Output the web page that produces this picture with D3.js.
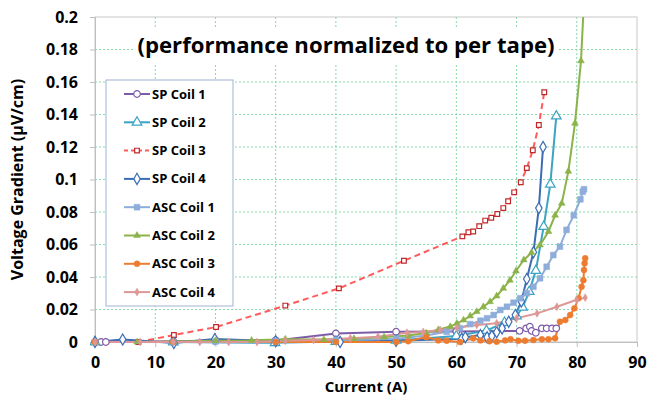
<!DOCTYPE html>
<html>
<head>
<meta charset="utf-8">
<script src="https://cdn.jsdelivr.net/npm/d3@7"></script>
<style>
  body { margin: 0; background: #fff; }
  text { font-family: "Open Sans", "DejaVu Sans", sans-serif; font-weight: bold; fill: #000; }
</style>
</head>
<body>
<svg width="648" height="407"></svg>
<script>
// ---- data (current in A, voltage gradient in uV/cm) ----
const seriesNames = ["SP Coil 1", "SP Coil 2", "SP Coil 3", "SP Coil 4",
                     "ASC Coil 1", "ASC Coil 2", "ASC Coil 3", "ASC Coil 4"];

const sp1I = [0, 1, 1.8, 13, 20, 30, 40, 50, 60, 70.5, 71.6, 72.2, 72.5, 73.2, 74.2, 75, 75.9, 76.6];
const sp1V = [0, 0, 0, 0.0005, 0.001, 0.001, 0.0053, 0.0063, 0.0065, 0.0068, 0.0084, 0.0094, 0.0068, 0.0057, 0.0084, 0.0084, 0.0084, 0.0084];

const sp2I = [0, 13, 29.9, 40, 50, 60, 65, 68, 70, 71, 72.1, 73.2, 74.5, 75.6, 76.6];
const sp2V = [0, 0, -0.0005, 0.0003, 0.001, 0.0037, 0.007, 0.012, 0.016, 0.0213, 0.031, 0.0439, 0.071, 0.097, 0.139];

const sp3I = [7.2, 13.1, 20.1, 31.6, 40.5, 51.3, 61, 62, 62.8, 63.8, 64.8, 65.8, 66.8, 67.8, 68.6, 69.6, 70.7, 71.7, 72.7, 73.7, 74.6];
const sp3V = [0, 0.0043, 0.0092, 0.0224, 0.033, 0.05, 0.065, 0.0675, 0.068, 0.0713, 0.0747, 0.0765, 0.0788, 0.0824, 0.0866, 0.0921, 0.0983, 0.107, 0.118, 0.1335, 0.1537];

const sp4I = [0, 4.6, 13.1, 19.9, 30, 40.7, 50, 60.9, 61.5, 64, 65.1, 65.9, 66.7, 67.6, 68.7, 69.8, 70.8, 71.7, 72.8, 73.7, 74.4];
const sp4V = [0, 0.0015, -0.0006, 0.0018, 0.0005, 0, 0.0008, 0.002, 0.0029, 0.0043, 0.0029, 0.0037, 0.006, 0.0084, 0.0125, 0.0166, 0.025, 0.0388, 0.0552, 0.0824, 0.12];

const asc1I = [0, 13, 20, 30, 40, 50, 55, 58.4, 60.6, 62.3, 64, 65.1, 66.2, 67.3, 68.4, 69.5, 70.6, 71.7, 72.8, 73.9, 75, 76.1, 77.2, 78.3, 79.5, 80.6, 81, 81.2];
const asc1V = [0, 0, 0.0003, 0.0005, 0.001, 0.002, 0.004, 0.0063, 0.0084, 0.011, 0.0131, 0.0146, 0.0166, 0.0197, 0.0217, 0.0242, 0.0269, 0.03, 0.034, 0.0392, 0.0463, 0.0535, 0.0587, 0.069, 0.078, 0.0878, 0.0925, 0.094];

const asc2I = [0, 7, 13, 20, 26, 31.6, 38, 43, 48, 52, 55, 57, 59, 60.1, 61.2, 62.3, 63.4, 64.5, 65.6, 66.7, 67.8, 68.9, 69.9, 71.2, 72.5, 73.9, 75.3, 76.4, 77.5, 78.6, 79.7, 80.7, 81.4];
const asc2V = [0, 0, 0.0003, 0.0008, 0.001, 0.0017, 0.0015, 0.002, 0.003, 0.004, 0.0055, 0.0075, 0.0095, 0.0115, 0.0135, 0.016, 0.0187, 0.0217, 0.0248, 0.0283, 0.033, 0.038, 0.0437, 0.0505, 0.055, 0.0597, 0.068, 0.078, 0.0853, 0.105, 0.1346, 0.173, 0.225];

const asc3I = [0, 13, 30, 40, 50, 52, 55, 57, 58.4, 60.6, 62.8, 64, 65.5, 66.7, 68.1, 69, 70.3, 71.4, 72.8, 74.2, 75.3, 76.4, 77.2, 78.1, 78.9, 79.6, 80.3, 80.8, 81.1, 81.2, 81.3, 81.4];
const asc3V = [0, 0, 0, 0, 0, 0.0005, 0.003, 0.001, 0.0008, 0, 0.0023, 0.001, 0.0005, 0.0002, 0.001, 0.0017, 0.0008, 0.0008, 0.0012, 0.0017, 0.0017, 0.0023, 0.0125, 0.0135, 0.0166, 0.0207, 0.0269, 0.034, 0.038, 0.0443, 0.0484, 0.0515];

const asc4I = [0, 7.5, 13, 17.4, 22.2, 26.9, 31.6, 36.3, 42.4, 47, 51.8, 54.5, 57.3, 60.1, 63.4, 66.7, 70, 73.4, 76.7, 80, 81.4];
const asc4V = [0, 0, 0, 0, 0, 0, 0.0008, 0.0012, 0.0023, 0.0033, 0.0057, 0.0062, 0.0074, 0.0088, 0.0105, 0.0115, 0.0146, 0.0176, 0.0217, 0.026, 0.0273];

const xTicks = [0, 10, 20, 30, 40, 50, 60, 70, 80, 90];
const yTicks = [0, 0.02, 0.04, 0.06, 0.08, 0.1, 0.12, 0.14, 0.16, 0.18, 0.2];

const series = [
  { name: seriesNames[0], I: sp1I, V: sp1V, color: "#7d5ba6", mark: d3.symbolCircle, size: 34, open: true },
  { name: seriesNames[1], I: sp2I, V: sp2V, color: "#3ba3c3", mark: d3.symbolTriangle, size: 40, open: true },
  { name: seriesNames[2], I: sp3I, V: sp3V, color: "#ff5a5a", mark: d3.symbolSquare, size: 22, open: true, dash: "6,4", markColor: "#c0282a" },
  { name: seriesNames[3], I: sp4I, V: sp4V, color: "#3c6db4", mark: d3.symbolDiamond, size: 36, open: true },
  { name: seriesNames[4], I: asc1I, V: asc1V, color: "#8eaddb", mark: d3.symbolSquare, size: 34 },
  { name: seriesNames[5], I: asc2I, V: asc2V, color: "#8cb24a", mark: d3.symbolTriangle, size: 20 },
  { name: seriesNames[6], I: asc3I, V: asc3V, color: "#ec7c30", mark: d3.symbolCircle, size: 28 },
  { name: seriesNames[7], I: asc4I, V: asc4V, color: "#dc9796", mark: d3.symbolDiamond, size: 18 }
];

// ---- layout ----
const svg = d3.select("svg");
const margin = { top: 17, right: 11, bottom: 65, left: 95 };
const W = 648 - margin.left - margin.right;
const H = 407 - margin.top - margin.bottom;

const x = d3.scaleLinear().domain([0, 90]).range([0, W]);
const y = d3.scaleLinear().domain([0, 0.2]).range([H, 0]);

const g = svg.append("g").attr("transform", `translate(${margin.left},${margin.top})`);

// gridlines
g.append("g")
  .selectAll("line.gy")
  .data(yTicks.slice(1, -1))
  .join("line")
  .attr("x1", 0).attr("x2", W)
  .attr("y1", d => y(d)).attr("y2", d => y(d))
  .attr("stroke", "#86d9aa").attr("stroke-width", 1).attr("stroke-dasharray", "2,2");

g.append("g")
  .selectAll("line.gx")
  .data(xTicks.slice(1, -1))
  .join("line")
  .attr("x1", d => x(d)).attr("x2", d => x(d))
  .attr("y1", 0).attr("y2", H)
  .attr("stroke", "#86d9aa").attr("stroke-width", 1).attr("stroke-dasharray", "2,2");

// plot border
g.append("rect")
  .attr("width", W).attr("height", H)
  .attr("fill", "none").attr("stroke", "#c8c8c8").attr("stroke-width", 1);

// title box
svg.append("rect")
  .attr("x", 135).attr("y", 27).attr("width", 423).attr("height", 36)
  .attr("fill", "#fff");
svg.append("text")
  .attr("x", 346).attr("y", 53)
  .attr("text-anchor", "middle")
  .attr("font-size", 21)
  .attr("textLength", 417).attr("lengthAdjust", "spacingAndGlyphs")
  .text("(performance normalized to per tape)");

// axes
const xAxis = g.append("g")
  .attr("transform", `translate(0,${H})`)
  .call(d3.axisBottom(x).tickValues(xTicks).tickSize(5).tickPadding(10).tickFormat(d3.format("d")));
const yAxis = g.append("g")
  .call(d3.axisLeft(y).tickValues(yTicks).tickSize(5).tickPadding(12).tickFormat(d => d === 0 ? "0" : String(+d.toFixed(2))));

[xAxis, yAxis].forEach(a => {
  a.select(".domain").attr("stroke", "#bfbfbf");
  a.selectAll(".tick line").attr("stroke", "#bfbfbf");
  a.selectAll(".tick text").attr("font-size", 16).attr("font-family", "Open Sans, sans-serif").attr("font-weight", "bold").attr("fill", "#000");
});

// axis titles
svg.append("text")
  .attr("x", margin.left + W / 2).attr("y", 392)
  .attr("text-anchor", "middle").attr("font-size", 15)
  .text("Current (A)");
svg.append("text")
  .attr("transform", `translate(23,${margin.top + H / 2}) rotate(-90)`)
  .attr("text-anchor", "middle").attr("font-size", 16)
  .text("Voltage Gradient (\u00b5V/cm)");

// clip so the steep curve stops at the top edge
svg.append("defs").append("clipPath").attr("id", "plotclip")
  .append("rect").attr("x", -5).attr("y", 0).attr("width", W + 10).attr("height", H + 10);

const plot = g.append("g").attr("clip-path", "url(#plotclip)");
const line = d3.line().x(d => x(d[0])).y(d => y(d[1]));

series.forEach(s => {
  const pts = s.I.map((v, i) => [v, s.V[i]]);
  plot.append("path")
    .datum(pts)
    .attr("d", line)
    .attr("fill", "none")
    .attr("stroke", s.color)
    .attr("stroke-width", 2)
    .attr("stroke-dasharray", s.dash || null);
});

// markers after all lines
series.forEach(s => {
  const pts = s.I.map((v, i) => [v, s.V[i]]);
  const mc = s.markColor || s.color;
  plot.append("g")
    .selectAll("path")
    .data(pts.filter(p => p[1] <= 0.2))
    .join("path")
    .attr("transform", d => `translate(${x(d[0])},${y(d[1])})`)
    .attr("d", d3.symbol(s.mark, s.size))
    .attr("fill", s.open ? "#fff" : mc)
    .attr("stroke", mc)
    .attr("stroke-width", s.open ? 1.2 : 0.5);
});

// legend
const legend = svg.append("g");
legend.append("rect")
  .attr("x", 106).attr("y", 80).attr("width", 127).attr("height", 226)
  .attr("fill", "#fff").attr("stroke", "#9fb3d3").attr("stroke-width", 1);

series.forEach((s, i) => {
  const ly = 94 + i * 28.3;
  const mc = s.markColor || s.color;
  legend.append("line")
    .attr("x1", 124).attr("x2", 150).attr("y1", ly).attr("y2", ly)
    .attr("stroke", s.color).attr("stroke-width", 2)
    .attr("stroke-dasharray", s.dash ? "4,3" : null);
  legend.append("path")
    .attr("transform", `translate(137,${ly})`)
    .attr("d", d3.symbol(s.mark, s.size))
    .attr("fill", s.open ? "#fff" : mc)
    .attr("stroke", mc)
    .attr("stroke-width", s.open ? 1.2 : 0.5);
  legend.append("text")
    .attr("x", 152).attr("y", ly + 4.5)
    .attr("font-size", 13)
    .text(s.name);
});
</script>
</body>
</html>
